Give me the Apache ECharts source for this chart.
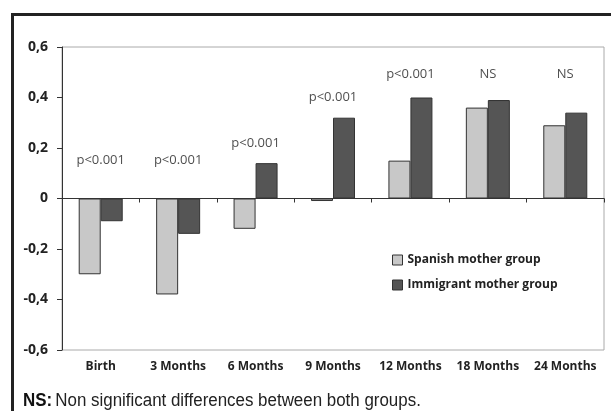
<!DOCTYPE html>
<html>
<head>
<meta charset="utf-8">
<style>
  html, body { margin: 0; padding: 0; background: #fff; }
  #chart { width: 611px; height: 411px; }
</style>
<script src="https://cdn.jsdelivr.net/npm/echarts@6/dist/echarts.min.js"></script>
</head>
<body>
<div id="chart"></div>
<script>
// categories and values
var categories = ['Birth', '3 Months', '6 Months', '9 Months', '12 Months', '18 Months', '24 Months']
var spanishGroup = [-0.30, -0.38, -0.12, -0.01, 0.15, 0.36, 0.29]
var immigrantGroup = [-0.09, -0.14, 0.14, 0.32, 0.40, 0.39, 0.34]
var pTexts = ['p<0.001', 'p<0.001', 'p<0.001', 'p<0.001', 'p<0.001', 'NS', 'NS']
var pLevels = [0.15, 0.15, 0.22, 0.40, 0.49, 0.49, 0.49]
var yTicks = [-0.6, -0.4, -0.2, 0, 0.2, 0.4, 0.6]

var chart = echarts.init(document.getElementById('chart'))

var labelFont = '"Open Sans", sans-serif'
var noteFont = '"Liberation Sans", Arial, sans-serif'

chart.setOption({
  animation: false,
  graphic: [
    {
      type: 'rect',
      z: -10,
      shape: { x: 12.5, y: 14.5, width: 700, height: 500 },
      style: { fill: 'none', stroke: '#222', lineWidth: 3 }
    },
    {
      // footnote, squeezed a bit to look like the condensed face of the original
      type: 'text',
      x: 23,
      y: 392,
      scaleX: 0.94,
      style: {
        text: '{b|NS:} {r|Non significant differences between both groups.}',
        rich: {
          b: { fontFamily: noteFont, fontWeight: 'bold', fontSize: 18, fill: '#111' },
          r: { fontFamily: noteFont, fontSize: 18, fill: '#222' }
        }
      }
    }
  ],
  legend: {
    orient: 'vertical',
    left: 387,
    top: 249,
    itemWidth: 10,
    itemHeight: 10,
    itemGap: 13,
    itemStyle: { borderColor: '#333', borderWidth: 1 },
    icon: 'rect',
    textStyle: { fontFamily: labelFont, fontWeight: 'bold', fontSize: 12, color: '#222' },
    data: ['Spanish mother group', 'Immigrant mother group']
  },
  grid: {
    left: 62,
    right: 7,
    top: 47,
    bottom: 61,
    show: true,
    borderColor: '#aaa',
    borderWidth: 1
  },
  xAxis: [
    {
      type: 'category',
      data: categories,
      axisLine: { onZero: true, lineStyle: { color: '#333', width: 1 } },
      axisTick: { show: true, length: 4, lineStyle: { color: '#333' } },
      axisLabel: { show: false }
    },
    {
      type: 'category',
      data: categories,
      position: 'bottom',
      axisLine: { show: false, onZero: false },
      axisTick: { show: false },
      axisLabel: { interval: 0, fontFamily: labelFont, fontWeight: 'bold', fontSize: 12, color: '#222', margin: 11 }
    }
  ],
  yAxis: {
    type: 'value',
    min: yTicks[0],
    max: yTicks[yTicks.length - 1],
    interval: 0.2,
    splitLine: { show: false },
    axisLine: { show: true, lineStyle: { color: '#333' } },
    axisTick: { show: true, length: 5, lineStyle: { color: '#333' } },
    axisLabel: {
      fontFamily: labelFont,
      fontWeight: 'bold',
      fontSize: 14,
      color: '#222',
      margin: 14,
      formatter: function (v) {
        var s = Math.abs(v) < 1e-9 ? '0' : v.toFixed(1)
        return s.replace('.', ',')
      }
    }
  },
  series: [
    {
      name: 'Spanish mother group',
      type: 'bar',
      xAxisIndex: 0,
      barWidth: 22,
      barGap: '0%',
      data: spanishGroup,
      itemStyle: { color: '#c8c8c8', borderColor: '#333', borderWidth: 1 }
    },
    {
      name: 'Immigrant mother group',
      type: 'bar',
      xAxisIndex: 0,
      barWidth: 22,
      barGap: '0%',
      data: immigrantGroup,
      itemStyle: { color: '#555555', borderColor: '#333', borderWidth: 1 }
    },
    {
      name: 'p',
      type: 'scatter',
      xAxisIndex: 0,
      symbolSize: 0,
      silent: true,
      data: pLevels.map(function (v, i) { return [categories[i], v] }),
      label: {
        show: true,
        position: 'inside',
        fontFamily: '"Open Sans", sans-serif',
        fontSize: 13,
        color: '#222',
        formatter: function (p) { return pTexts[p.dataIndex] }
      }
    }
  ]
})
</script>
</body>
</html>
